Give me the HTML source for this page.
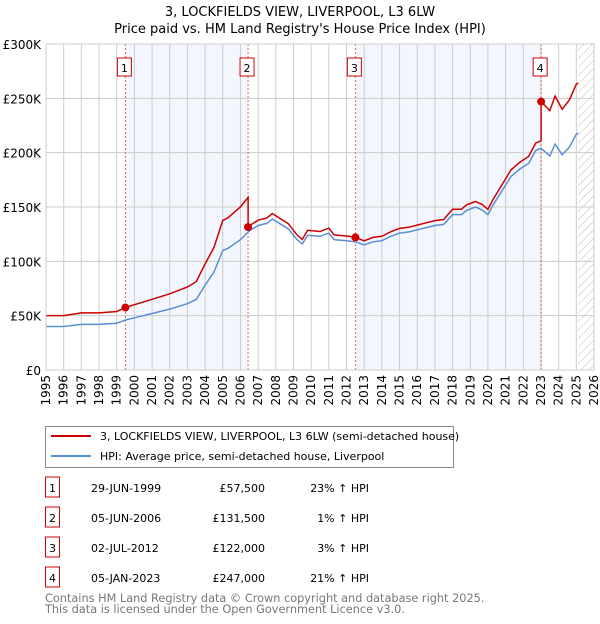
<!DOCTYPE html>
<html><head><meta charset="utf-8"><style>
body{margin:0;background:#fff;font-family:"DejaVu Sans","Liberation Sans",sans-serif;}
svg text{font-family:"DejaVu Sans","Liberation Sans",sans-serif;}
</style></head><body>
<svg id="c" width="600" height="620" viewBox="0 0 600 620">
<text x="300" y="16" text-anchor="middle" font-size="13">3, LOCKFIELDS VIEW, LIVERPOOL, L3 6LW</text>
<text x="300" y="33" text-anchor="middle" font-size="13">Price paid vs. HM Land Registry's House Price Index (HPI)</text>
<g id="plot"></g>
<g>
<rect x="45.5" y="426.5" width="408" height="41" fill="#fff" stroke="#888"/>
<line x1="51" y1="436" x2="91" y2="436" stroke="#cc0000" stroke-width="2"/>
<text x="100" y="440" font-size="11">3, LOCKFIELDS VIEW, LIVERPOOL, L3 6LW (semi-detached house)</text>
<line x1="51" y1="456" x2="91" y2="456" stroke="#5b8fd4" stroke-width="2"/>
<text x="100" y="460" font-size="11">HPI: Average price, semi-detached house, Liverpool</text>
</g>
<g id="table"></g>
<text x="45" y="602" font-size="11.3" fill="#777">Contains HM Land Registry data © Crown copyright and database right 2025.</text>
<text x="45" y="613" font-size="11.3" fill="#777">This data is licensed under the Open Government Licence v3.0.</text>
</svg>
<script>
const hpiYears=[1995,1996,1997,1998,1999,1999.5,2000,2001,2002,2003,2003.5,2004,2004.5,2005,2005.3,2006,2006.5,2007,2007.5,2007.8,2008.2,2008.7,2009.2,2009.5,2009.8,2010.5,2011,2011.3,2012,2012.5,2013,2013.5,2014,2014.5,2015,2015.5,2016,2016.5,2017,2017.5,2018,2018.5,2018.8,2019.3,2019.7,2020,2020.3,2020.8,2021.3,2021.8,2022.3,2022.7,2023,2023.5,2023.8,2024.2,2024.6,2025,2025.1];
const hpiValues=[40,40,42,42,43,46,48,52,56,61,65,78,90,110,112,120,128,133,135,139,135,130,120,116,124,123,126,120,119,118,115,118,119,123,126,127,129,131,133,134,143,143,147,150,147,143,152,165,178,185,190,202,204,197,208,198,205,217,218];
const saleYears=[1999.49,2006.43,2012.5,2023.01];
const salePrices=[57500,131500,122000,247000];
const saleDates=["29-JUN-1999","05-JUN-2006","02-JUL-2012","05-JAN-2023"];
const salePriceLabels=["£57,500","£131,500","£122,000","£247,000"];
const saleHpiLabels=["23% ↑ HPI","1% ↑ HPI","3% ↑ HPI","21% ↑ HPI"];
const yTicks=[0,50,100,150,200,250,300];

const NS="http://www.w3.org/2000/svg";
const X0=46,X1=594,Y0=370,Y1=44;
const xs=y=>X0+(y-1995)/(2026-1995)*(X1-X0);
const ys=v=>Y0-v/300*(Y0-Y1);
function mk(t,a,p){const e=document.createElementNS(NS,t);for(const k in a)e.setAttribute(k,a[k]);(p||plot).appendChild(e);return e;}
const plot=document.getElementById('plot');
function hpiAt(t){for(let i=1;i<hpiYears.length;i++){if(t<=hpiYears[i]){const f=(t-hpiYears[i-1])/(hpiYears[i]-hpiYears[i-1]);return hpiValues[i-1]+f*(hpiValues[i]-hpiValues[i-1]);}}return hpiValues[hpiValues.length-1];}
[[0,1],[2,3]].forEach(([a,b])=>{const r=mk('rect',{x:xs(saleYears[a]),y:Y1,width:xs(saleYears[b])-xs(saleYears[a]),height:Y0-Y1,fill:'#eef3fc',opacity:0.7});
});
const defs=mk('defs',{});const pat=mk('pattern',{id:'h',width:6,height:6,patternUnits:'userSpaceOnUse',patternTransform:'rotate(45)'},defs);mk('line',{x1:0,y1:0,x2:0,y2:6,stroke:'#bbb','stroke-width':1},pat);
const hx=xs(2025.1);const hr=mk('rect',{x:hx,y:Y1,width:X1-hx,height:Y0-Y1,fill:'url(#h)'});

for(let y=1995;y<=2026;y++){const l=mk('line',{x1:xs(y),x2:xs(y),y1:Y1,y2:Y0,stroke:'#ccc','stroke-width':1});

const t=mk('text',{x:0,y:0,'font-size':12,'text-anchor':'end',transform:`translate(${xs(y)+4},${Y0+5}) rotate(-90)`});t.textContent=y;
}
yTicks.forEach(v=>{const l=mk('line',{x1:X0,x2:X1,y1:ys(v),y2:ys(v),stroke:'#ccc','stroke-width':1});

const t=mk('text',{x:X0-5,y:ys(v)+5,'font-size':12,'text-anchor':'end'});t.textContent=v===0?'£0':'£'+v+'K';
});
saleYears.forEach((s,i)=>{const l=mk('line',{x1:xs(s),x2:xs(s),y1:Y1,y2:Y0,stroke:'#e06060','stroke-width':1,'stroke-dasharray':'2,2'});

const g=mk('g',{});
mk('rect',{x:xs(s)-8,y:58,width:14,height:18,fill:'#fff',stroke:'#cc0000'},g);
const t=mk('text',{x:xs(s)-1,y:72,'font-size':11,'text-anchor':'middle'},g);t.textContent=i+1;});
let d='';hpiYears.forEach((y,i)=>{d+=(i?'L':'M')+xs(y).toFixed(1)+','+ys(hpiValues[i]).toFixed(1);});
const hp=mk('path',{d,fill:'none',stroke:'#5b8fd4','stroke-width':1.5});

const ts=[...new Set(hpiYears.concat(saleYears))].sort((a,b)=>a-b);
function propAt(t,k){return hpiAt(t)*(salePrices[k]/1000)/hpiAt(saleYears[k]);}
let pd='';let first=true;
ts.forEach(t=>{let k=0;for(let j=0;j<saleYears.length;j++)if(t>=saleYears[j])k=j;
if(saleYears.includes(t)&&k>0){pd+='L'+xs(t).toFixed(1)+','+ys(propAt(t,k-1)).toFixed(1);}
pd+=(first?'M':'L')+xs(t).toFixed(1)+','+ys(propAt(t,k)).toFixed(1);first=false;});
const pp=mk('path',{d:pd,fill:'none',stroke:'#cc0000','stroke-width':1.5});

saleYears.forEach((s,i)=>{const c=mk('circle',{cx:xs(s),cy:ys(salePrices[i]/1000),r:4,fill:'#cc0000'});
});
mk('rect',{x:X0,y:Y1,width:X1-X0,height:Y0-Y1,fill:'none',stroke:'#ccc'});
const tb=document.getElementById('table');
saleYears.forEach((s,i)=>{const y=492+i*30;
const g=mk('g',{},tb);
mk('rect',{x:45.5,y:y-15,width:14,height:20,fill:'#fff',stroke:'#cc0000'},g);
let t=mk('text',{x:52.5,y:y,'font-size':11,'text-anchor':'middle'},g);t.textContent=i+1;
t=mk('text',{x:91,y:y,'font-size':11},g);t.textContent=saleDates[i];
t=mk('text',{x:265,y:y,'font-size':11,'text-anchor':'end'},g);t.textContent=salePriceLabels[i];
t=mk('text',{x:369,y:y,'font-size':11,'text-anchor':'end'},g);t.textContent=saleHpiLabels[i];});
</script>
</body></html>
